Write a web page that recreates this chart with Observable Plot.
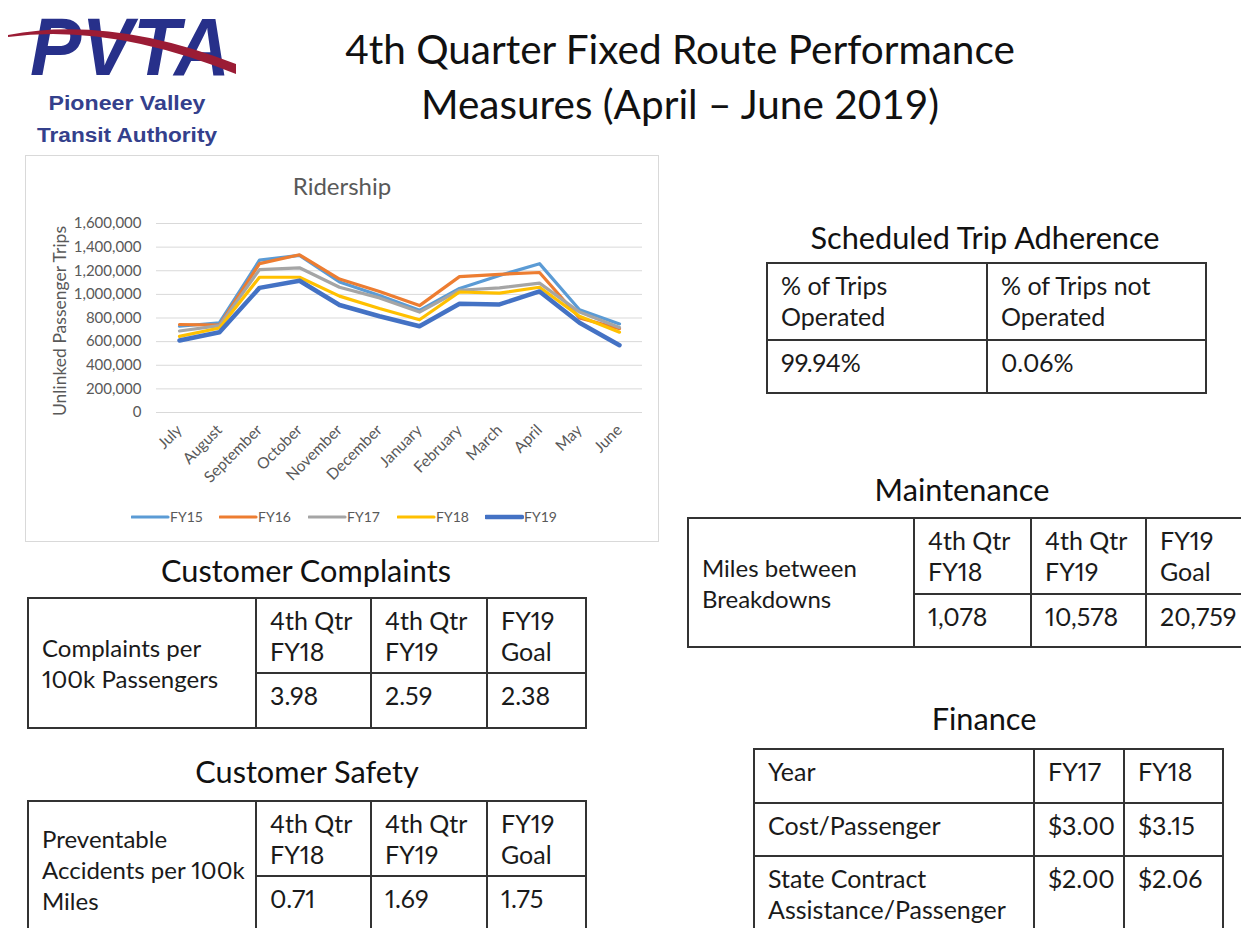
<!DOCTYPE html>
<html><head><meta charset="utf-8">
<script src="https://cdn.jsdelivr.net/npm/d3@7"></script>
<script src="https://cdn.jsdelivr.net/npm/@observablehq/plot@0.6"></script>
<style>
html,body{margin:0;padding:0;background:#fff;}
body{width:1241px;height:928px;overflow:hidden;position:relative;font-family:Lato,"Open Sans",sans-serif;color:#111;}
.abs{position:absolute;}
.sect{position:absolute;width:600px;text-align:center;font-size:30.7px;line-height:40px;color:#111;white-space:nowrap;}
table.t{position:absolute;border-collapse:collapse;table-layout:fixed;font-variant-numeric:proportional-nums;}
table.t td{border:2px solid #333;padding:6px 8px 0 13px;vertical-align:top;font-size:25px;line-height:31px;white-space:nowrap;overflow:hidden;color:#1a1a1a;}
table.t td.lab{font-size:24px;}
#chartbox{position:absolute;left:25px;top:155px;width:634px;height:387px;border:1px solid #d9d9d9;box-sizing:border-box;}
.legend{position:absolute;top:506px;height:22px;font-size:14px;line-height:22px;color:#595959;}
</style>
</head><body>
<script>
// ---------------- data ----------------
const months = ["July","August","September","October","November","December","January","February","March","April","May","June"];
const seriesNames = ["FY15","FY16","FY17","FY18","FY19"];
const seriesColors = ["#5B9BD5","#ED7D31","#A5A5A5","#FFC000","#4472C4"];
const fy15 = [730000, 760000, 1290000, 1330000, 1105000, 990000, 865000, 1050000, 1160000, 1260000, 870000, 750000];
const fy16 = [745000, 740000, 1260000, 1335000, 1130000, 1025000, 905000, 1150000, 1170000, 1185000, 800000, 710000];
const fy17 = [690000, 735000, 1210000, 1225000, 1060000, 970000, 850000, 1035000, 1055000, 1095000, 850000, 720000];
const fy18 = [645000, 715000, 1145000, 1145000, 985000, 880000, 785000, 1020000, 1010000, 1060000, 815000, 680000];
const fy19 = [610000, 680000, 1055000, 1115000, 910000, 815000, 730000, 920000, 915000, 1025000, 760000, 570000];
const seriesValues = [fy15, fy16, fy17, fy18, fy19];
const yTicks = [0, 200000, 400000, 600000, 800000, 1000000, 1200000, 1400000, 1600000];

const adherenceHeaders = ["% of Trips\nOperated", "% of Trips not\nOperated"];
const adherenceValues = ["99.94%", "0.06%"];
const maintLabel = "Miles between\nBreakdowns";
const maintHeaders = ["4th Qtr\nFY18", "4th Qtr\nFY19", "FY19\nGoal"];
const maintValues = ["1,078", "10,578", "20,759"];
const complaintsLabel = "Complaints per\n100k Passengers";
const complaintsHeaders = ["4th Qtr\nFY18", "4th Qtr\nFY19", "FY19\nGoal"];
const complaintsValues = ["3.98", "2.59", "2.38"];
const safetyLabel = "Preventable\nAccidents per 100k\nMiles";
const safetyHeaders = ["4th Qtr\nFY18", "4th Qtr\nFY19", "FY19\nGoal"];
const safetyValues = ["0.71", "1.69", "1.75"];
const financeRowLabels = ["Year", "Cost/Passenger", "State Contract\nAssistance/Passenger"];
const financeYears = ["FY17", "FY18"];
const financeCost = ["$3.00", "$3.15"];
const financeAssist = ["$2.00", "$2.06"];

// ---------------- header / logo ----------------
document.body.insertAdjacentHTML("beforeend", `
<svg class="abs" style="left:0;top:0;overflow:visible" width="270" height="150">
  <text x="30" y="75" font-family="Liberation Sans, Arial, sans-serif" font-weight="bold" font-style="italic" font-size="82" fill="#27308a" textLength="200" lengthAdjust="spacingAndGlyphs">PVTA</text>
  <path d="M8,35 Q110,15 236,64 L236,74 Q110,23 8,37 Z" fill="#9b1c35"/>
  <text x="127" y="110" text-anchor="middle" font-family="Liberation Sans, Arial, sans-serif" font-weight="bold" font-size="20" fill="#34408c" textLength="157" lengthAdjust="spacingAndGlyphs">Pioneer Valley</text>
  <text x="127" y="142" text-anchor="middle" font-family="Liberation Sans, Arial, sans-serif" font-weight="bold" font-size="20" fill="#34408c" textLength="180" lengthAdjust="spacingAndGlyphs">Transit Authority</text>
</svg>
<div class="abs" style="left:280px;top:21px;width:800px;text-align:center;font-size:40.5px;line-height:55px;color:#111;">4th Quarter Fixed Route Performance<br>Measures (April – June 2019)</div>
<div id="chartbox"></div>
<div class="abs" style="left:25px;top:170px;width:634px;text-align:center;font-size:24px;line-height:32px;color:#595959;">Ridership</div>
<div class="abs" style="left:-50px;top:310px;width:220px;text-align:center;font-size:17.5px;line-height:22px;color:#595959;transform:rotate(-90deg);">Unlinked Passenger Trips</div>
`);

// ---------------- chart ----------------
const data = seriesNames.flatMap((s, i) => months.map((m, j) => ({series: s, month: m, value: seriesValues[i][j]})));

const chart = Plot.plot({
  width: 632, height: 290,
  marginLeft: 130, marginRight: 16, marginTop: 23, marginBottom: 78,
  style: {fontFamily: "Lato, sans-serif", fontSize: "15px", color: "#595959", background: "transparent", overflow: "visible"},
  x: {type: "point", domain: months, padding: 0.5, label: null},
  y: {domain: [0, 1600000], label: null},
  marks: [
    Plot.gridY(yTicks, {stroke: "#d9d9d9", strokeOpacity: 1, strokeWidth: 1}),
    Plot.axisY(yTicks, {tickSize: 0, tickPadding: 15, tickFormat: d3.format(","), label: null, fill: "#595959", fontSize: 15}),
    Plot.axisX({tickSize: 0, tickRotate: -45, tickPadding: 15, fontSize: 15.5, label: null, fill: "#595959"}),
    ...seriesNames.map((s, i) => Plot.line(data.filter(d => d.series === s), {
      x: "month", y: "value", stroke: seriesColors[i], strokeWidth: i === 4 ? 4.5 : 3.2,
      strokeLinejoin: "round", strokeLinecap: "round"
    }))
  ]
});
chart.style.position = "absolute";
chart.style.left = "26px";
chart.style.top = "200px";
document.body.appendChild(chart);

// legend
const legendX = [131, 219, 308, 397, 485];
seriesNames.forEach((s, i) => {
  const d = document.createElement("div");
  d.className = "legend";
  d.style.left = legendX[i] + "px";
  d.innerHTML = `<svg width="39" height="22" style="vertical-align:top"><line x1="1" x2="37" y1="11" y2="11" stroke="${seriesColors[i]}" stroke-width="${i === 4 ? 4.5 : 3.2}" stroke-linecap="round"/></svg>${s}`;
  document.body.appendChild(d);
});

// ---------------- tables ----------------
function sectTitle(text, cx, cy) {
  const d = document.createElement("div");
  d.className = "sect";
  d.style.left = (cx - 300) + "px";
  d.style.top = (cy - 20) + "px";
  d.textContent = text;
  document.body.appendChild(d);
}
function makeTable(left, top, cols, rows, cells) {
  const t = document.createElement("table");
  t.className = "t";
  t.style.left = left + "px"; t.style.top = top + "px";
  t.style.width = d3.sum(cols) + "px";
  const cg = document.createElement("colgroup");
  cols.forEach(w => { const c = document.createElement("col"); c.style.width = w + "px"; cg.appendChild(c); });
  t.appendChild(cg);
  cells.forEach((row, r) => {
    const tr = t.insertRow();
    tr.style.height = rows[r] + "px";
    row.forEach(cell => {
      const td = tr.insertCell();
      const c = typeof cell === "string" ? {text: cell} : cell;
      td.innerHTML = c.text.split("\n").join("<br>");
      if (c.rowspan) { td.rowSpan = c.rowspan; td.className = "lab"; td.style.verticalAlign = "middle"; td.style.paddingTop = "0"; }
    });
  });
  document.body.appendChild(t);
}

sectTitle("Scheduled Trip Adherence", 985, 238);
makeTable(766, 262, [220, 219], [77, 53], [adherenceHeaders, adherenceValues]);

sectTitle("Maintenance", 962, 490);
makeTable(687, 517, [226, 117, 115, 110], [76, 53],
  [[{text: maintLabel, rowspan: 2}, ...maintHeaders], maintValues]);

sectTitle("Customer Complaints", 306, 571);
makeTable(27, 597, [228, 115, 116, 99], [75, 55],
  [[{text: complaintsLabel, rowspan: 2}, ...complaintsHeaders], complaintsValues]);

sectTitle("Customer Safety", 307, 772);
makeTable(27, 800, [228, 115, 116, 99], [75, 62],
  [[{text: safetyLabel, rowspan: 2}, ...safetyHeaders], safetyValues]);

sectTitle("Finance", 984, 719);
makeTable(753, 748, [280, 90, 99], [54, 53, 80],
  [[financeRowLabels[0], ...financeYears], [financeRowLabels[1], ...financeCost], [financeRowLabels[2], ...financeAssist]]);
</script>
</body></html>
